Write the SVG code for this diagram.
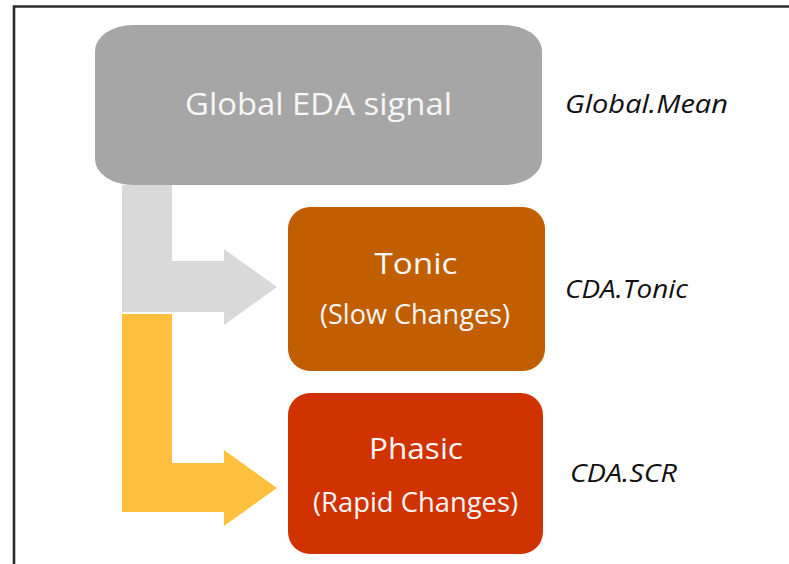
<svg xmlns="http://www.w3.org/2000/svg" width="789" height="564" viewBox="0 0 789 564">
  <style>
    .label { font-family: "Open Sans", "Noto Sans", sans-serif; fill: #F7F7F7; text-anchor: middle; }
    .var { font-family: "Open Sans", "Noto Sans", sans-serif; font-style: italic; fill: #111111; }
  </style>
  <rect width="789" height="564" fill="#FFFFFF"/>
  <!-- frame: top and left edges -->
  <path d="M14 564 V6.5 H789" fill="none" stroke="#2B2B2B" stroke-width="2.6"/>

  <g id="connectors">
    <!-- grey L-arrow into Tonic -->
    <path id="arrow-tonic" d="M122 185 H172 V261 H224 V249 L277 287 L224 325 V312 H122 Z" fill="#D9D9D9"/>
    <!-- yellow L-arrow into Phasic -->
    <path id="arrow-phasic" d="M122 314 H172 V463 H224 V450 L277 488 L224 526 V512 H122 Z" fill="#FFBF3F"/>
  </g>

  <g id="global">
    <path d="M133 25 H504 A38 26 0 0 1 542 51 V159 A38 26 0 0 1 504 185 H133 A38 26 0 0 1 95 159 V51 A38 26 0 0 1 133 25 Z" fill="#A6A6A6"/>
    <text class="label" x="318.5" y="115" font-size="31" textLength="267" lengthAdjust="spacingAndGlyphs">Global EDA signal</text>
  </g>

  <g id="tonic">
    <rect x="288" y="207" width="257" height="164" rx="22" ry="22" fill="#C15E00"/>
    <text class="label" x="416" y="274" font-size="29" textLength="83" lengthAdjust="spacingAndGlyphs">Tonic</text>
    <text class="label" x="415" y="324" font-size="27" textLength="190" lengthAdjust="spacingAndGlyphs">(Slow Changes)</text>
  </g>

  <g id="phasic">
    <rect x="288" y="393" width="255" height="161" rx="22" ry="22" fill="#D03300"/>
    <text class="label" x="416" y="459" font-size="29" textLength="94" lengthAdjust="spacingAndGlyphs">Phasic</text>
    <text class="label" x="415.5" y="512" font-size="27" textLength="205" lengthAdjust="spacingAndGlyphs">(Rapid Changes)</text>
  </g>

  <g id="global-mean">
    <text class="var" x="565" y="113" font-size="25" textLength="163" lengthAdjust="spacingAndGlyphs">Global.Mean</text>
  </g>
  <g id="cda-tonic">
    <text class="var" x="565" y="298" font-size="25" textLength="123" lengthAdjust="spacingAndGlyphs">CDA.Tonic</text>
  </g>
  <g id="cda-scr">
    <text class="var" x="570" y="482" font-size="25" textLength="107" lengthAdjust="spacingAndGlyphs">CDA.SCR</text>
  </g>
</svg>
